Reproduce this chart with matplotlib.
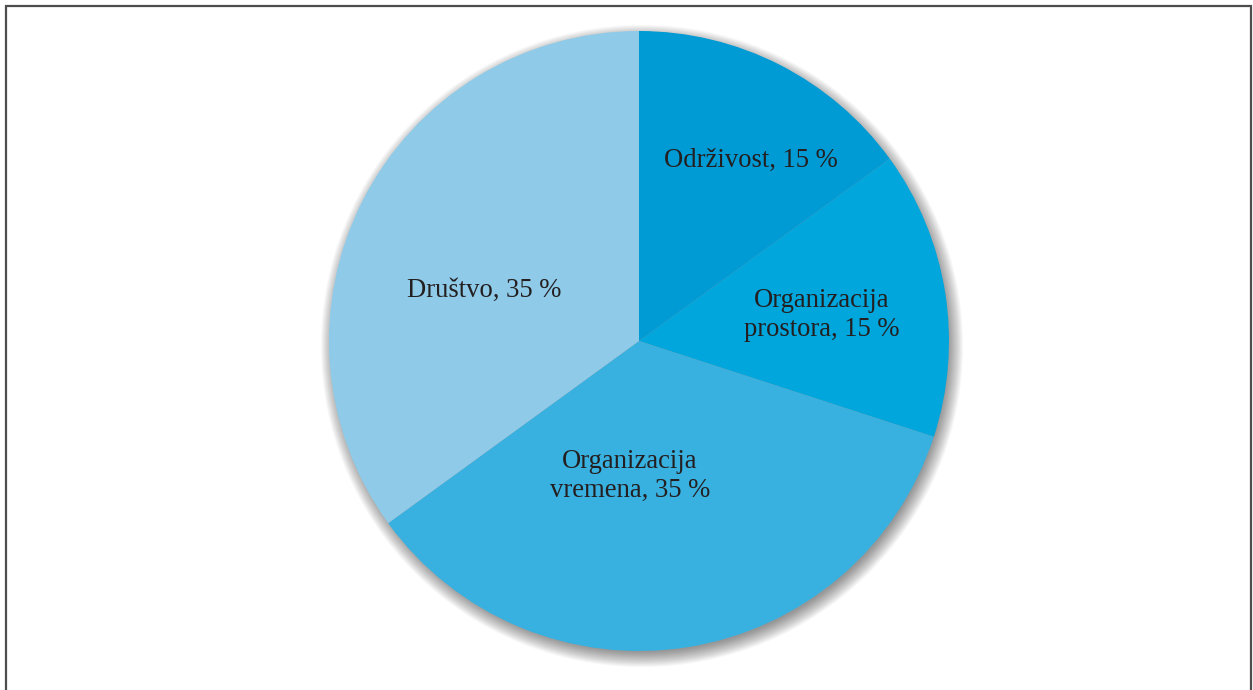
import matplotlib.pyplot as plt
from matplotlib.patches import Circle

labels = ["Održivost, 15 %", "Organizacija\nprostora, 15 %",
          "Organizacija\nvremena, 35 %", "Društvo, 35 %"]
shares = [15, 15, 35, 35]
colors = ["#009bd5", "#00a6dc", "#38b1e0", "#8fcbe9"]
label_pos = [(751, 160), (822, 315), (630, 476), (484, 290)]

W, H = 1253, 690
cx, cy, r = 639, 341, 310

fig = plt.figure(figsize=(W / 100, H / 100), dpi=100)
ax = fig.add_axes([0, 0, 1, 1])

# soft shadow behind the pie
for i in range(20):
    ax.add_patch(Circle((cx + 3, H - cy - 5), r - 4 + i * 0.8,
                        color="#000000", alpha=0.022, lw=0, zorder=1))

ax.pie(shares, colors=colors, startangle=90, counterclock=False,
       center=(cx, H - cy), radius=r, frame=True,
       wedgeprops=dict(linewidth=0, zorder=2))
ax.set_xlim(0, W)
ax.set_ylim(0, H)
ax.set_aspect("equal")
ax.axis("off")

for text, (x, y) in zip(labels, label_pos):
    ax.text(x, H - y, text, ha="center", va="center", fontsize=19.2,
            family="Liberation Serif", color="#231f20",
            linespacing=1.2, zorder=5)

# frame (bottom edge is cut off in the reference)
ax.plot([6, 6, 1251, 1251], [0, H - 6, H - 6, 0], color="#4d4d4d",
        lw=1.6, solid_joinstyle="miter", zorder=6)

fig.savefig("out.png", dpi=100)
